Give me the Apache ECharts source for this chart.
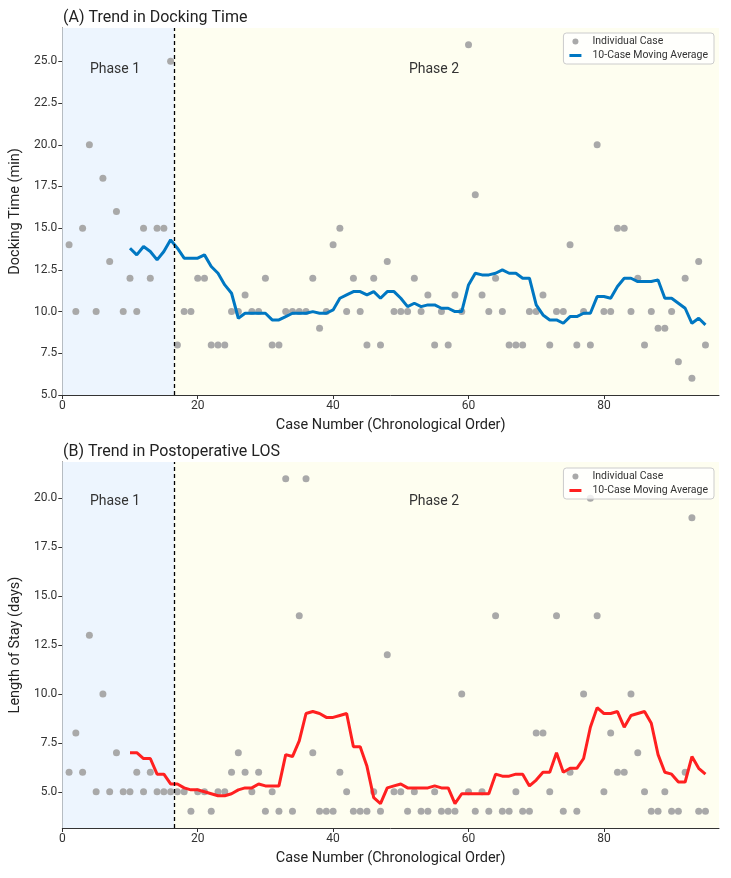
<!DOCTYPE html>
<html>
<head>
<meta charset="utf-8">
<title>Docking time and LOS trend</title>
<script src="https://cdn.jsdelivr.net/npm/echarts@6/dist/echarts.min.js"></script>
<style>
  html, body { margin: 0; padding: 0; background: #fff; }
  #chart { width: 731px; height: 878px; }
</style>
</head>
<body>
<div id="chart"></div>
<script>
// individual cases, case number = index + 1
var dockingTime = [14, 10, 15, 20, 10, 18, 13, 16, 10, 12,
                   10, 15, 12, 15, 15, 25, 8, 10, 10, 12,
                   12, 8, 8, 8, 10, 10, 11, 10, 10, 12,
                   8, 8, 10, 10, 10, 10, 12, 9, 10, 14,
                   15, 10, 12, 10, 8, 12, 8, 13, 10, 10,
                   10, 12, 10, 11, 8, 10, 8, 11, 10, 26,
                   17, 11, 10, 12, 10, 8, 8, 8, 10, 10,
                   11, 8, 10, 10, 14, 8, 10, 8, 20, 10,
                   10, 15, 15, 10, 12, 8, 10, 9, 9, 10,
                   7, 12, 6, 13, 8];
var losDays = [6, 8, 6, 13, 5, 10, 5, 7, 5, 5,
               6, 5, 6, 5, 5, 5, 5, 5, 4, 5,
               5, 4, 5, 5, 6, 7, 6, 5, 6, 4,
               5, 4, 21, 4, 14, 21, 7, 4, 4, 4,
               6, 5, 4, 4, 4, 5, 4, 12, 5, 5,
               4, 5, 4, 4, 5, 4, 4, 4, 10, 5,
               4, 5, 4, 14, 4, 4, 5, 4, 4, 8,
               8, 5, 14, 4, 6, 4, 10, 20, 14, 5,
               8, 6, 6, 10, 7, 5, 4, 4, 5, 4,
               4, 6, 19, 4, 4];
var phaseSplit = 16.5;
var windowSize = 10;
var xTicks = [0, 20, 40, 60, 80];
var dockTicks = [5, 7.5, 10, 12.5, 15, 17.5, 20, 22.5, 25];
var losTicks = [5, 7.5, 10, 12.5, 15, 17.5, 20];

function toPoints(arr) {
  return arr.map(function (v, i) { return [i + 1, v]; });
}
// 10-case rolling mean, starts at case 10
function movingAvg(arr, w) {
  var out = [];
  for (var i = w - 1; i < arr.length; i++) {
    var s = 0;
    for (var j = i - w + 1; j <= i; j++) s += arr[j];
    out.push([i + 1, s / w]);
  }
  return out;
}

var font = 'Roboto, "Noto Sans", sans-serif';
var axisCol = '#333';
// bar icon with empty margins, so the legend shows a 3px line
var lineIcon = 'path://M0,0L0.01,0M0,3h24v6h-24zM0,12L0.01,12';

function xAxisCfg(grid) {
  return {
    type: 'value', gridIndex: grid, min: 0, max: 97,
    name: 'Case Number (Chronological Order)', nameLocation: 'middle', nameGap: 23,
    nameTextStyle: { fontSize: 14.5, color: '#222', fontFamily: font },
    axisLine: { lineStyle: { color: axisCol } },
    axisTick: { show: true, length: 4, customValues: xTicks, lineStyle: { color: axisCol } },
    axisLabel: { customValues: xTicks, fontSize: 12, color: '#333', fontFamily: font, margin: 5 },
    splitLine: { show: false }
  };
}
function yAxisCfg(grid, name, mn, mx, ticks) {
  return {
    type: 'value', gridIndex: grid, min: mn, max: mx,
    name: name, nameLocation: 'middle', nameGap: 34, nameRotate: 90,
    nameTextStyle: { fontSize: 14.5, color: '#222', fontFamily: font },
    axisLine: { show: true, lineStyle: { color: axisCol } },
    axisTick: { show: true, length: 4, customValues: ticks, lineStyle: { color: axisCol } },
    axisLabel: { customValues: ticks, fontSize: 12, color: '#333', fontFamily: font, margin: 5,
                 formatter: function (v) { return v.toFixed(1); } },
    splitLine: { show: false }
  };
}
function scatterSeries(name, idx, data) {
  return {
    name: name, type: 'scatter', xAxisIndex: idx, yAxisIndex: idx,
    data: toPoints(data), symbolSize: 7,
    itemStyle: { color: '#a9a9a9', opacity: 1 },
    markArea: {
      silent: true,
      data: [
        [{ xAxis: 0, itemStyle: { color: '#edf5fe' } }, { xAxis: phaseSplit }],
        [{ xAxis: phaseSplit, itemStyle: { color: '#fefef0' } }, { xAxis: 97 }]
      ]
    },
    markLine: {
      silent: true, symbol: ['none', 'none'], label: { show: false },
      lineStyle: { color: '#000', type: [4, 3], width: 1.3 },
      data: [{ xAxis: phaseSplit }]
    }
  };
}
function lineSeries(name, idx, data, color) {
  return {
    name: name, type: 'line', xAxisIndex: idx, yAxisIndex: idx,
    data: movingAvg(data, windowSize), symbol: 'none',
    lineStyle: { color: color, width: 3 }, itemStyle: { color: color }, z: 3
  };
}
function legendCfg(top, names) {
  return {
    top: top, right: 17, orient: 'vertical', itemGap: 3,
    itemWidth: 24, itemHeight: 6,
    data: [{ name: names[0], icon: 'circle' }, { name: names[1], icon: lineIcon }],
    formatter: function (n) { return n.trim(); },
    textStyle: { fontSize: 10.5, color: '#333', fontFamily: font },
    backgroundColor: 'rgba(255,255,255,0.8)', borderColor: '#ccc', borderWidth: 1,
    borderRadius: 3, padding: [3, 6, 3, 6]
  };
}
function phaseText(x, y, t) {
  return { type: 'text', x: x, y: y, z: 100,
           style: { text: t, fontSize: 14, fill: '#333', fontFamily: font, align: 'center', verticalAlign: 'middle' } };
}

var chart = echarts.init(document.getElementById('chart'));
chart.setOption({
  animation: false,
  title: [
    { text: '(A) Trend in Docking Time', left: 58, top: 5,
      textStyle: { fontSize: 16, fontWeight: 'normal', color: '#222', fontFamily: font } },
    { text: '(B) Trend in Postoperative LOS', left: 58, top: 439,
      textStyle: { fontSize: 16, fontWeight: 'normal', color: '#222', fontFamily: font } }
  ],
  grid: [
    { left: 61, top: 28, width: 658, height: 367 },
    { left: 61, top: 462, width: 658, height: 366 }
  ],
  xAxis: [xAxisCfg(0), xAxisCfg(1)],
  yAxis: [
    yAxisCfg(0, 'Docking Time (min)', 5, 27, dockTicks),
    yAxisCfg(1, 'Length of Stay (days)', 3.15, 21.85, losTicks)
  ],
  legend: [
    legendCfg(33, ['Individual Case', '10-Case Moving Average']),
    legendCfg(468, ['Individual Case ', '10-Case Moving Average '])
  ],
  graphic: [
    phaseText(115, 69, 'Phase 1'), phaseText(434, 69, 'Phase 2'),
    phaseText(115, 501, 'Phase 1'), phaseText(434, 501, 'Phase 2')
  ],
  series: [
    scatterSeries('Individual Case', 0, dockingTime),
    lineSeries('10-Case Moving Average', 0, dockingTime, '#0077c2'),
    scatterSeries('Individual Case ', 1, losDays),
    lineSeries('10-Case Moving Average ', 1, losDays, '#ff2020')
  ]
});
</script>
</body>
</html>
